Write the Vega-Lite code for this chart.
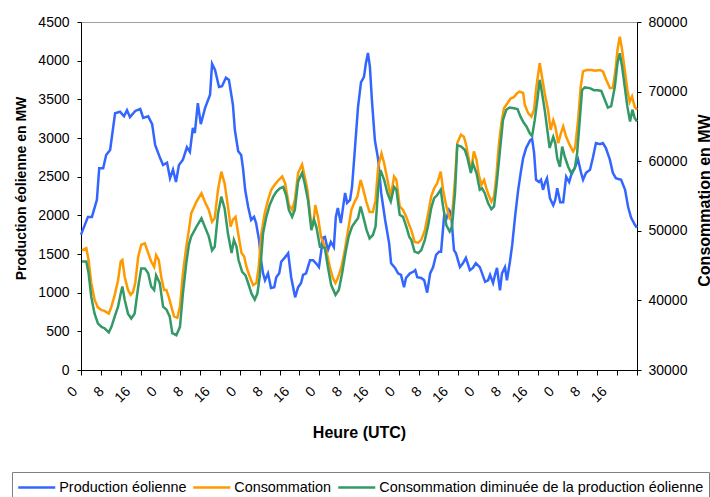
{
  "$schema": "https://vega.github.io/schema/vega-lite/v6.json",
  "width": 556,
  "height": 348,
  "autosize": {"type": "none"},
  "padding": {"left": 81, "top": 22, "right": 73, "bottom": 127},
  "background": "white",
  "config": {
    "view": {"stroke": "#a0a0a0"},
    "font": "Liberation Sans",
    "axis": {"grid": false, "labelColor": "#000", "titleColor": "#000", "domainColor": "#000", "tickColor": "#000", "labelFont": "Liberation Sans", "labelFontSize": 14, "titleFont": "Liberation Sans", "titleFontWeight": "bold"}
  },
  "datasets": {
    "prod": [
      {"h":0,"v":1750},{"h":2.1,"v":1980},{"h":3.3,"v":1980},{"h":4.8,"v":2200},{"h":5.5,"v":2610},{"h":6.7,"v":2610},{"h":7.6,"v":2780},{"h":8.8,"v":2845},{"h":10.3,"v":3320},{"h":11.8,"v":3340},{"h":13.0,"v":3280},{"h":13.9,"v":3360},{"h":14.8,"v":3270},{"h":16.4,"v":3350},{"h":17.9,"v":3375},{"h":18.8,"v":3260},{"h":20.3,"v":3280},{"h":21.5,"v":3180},{"h":22.4,"v":2910},{"h":23.9,"v":2740},{"h":24.8,"v":2650},{"h":26.0,"v":2680},{"h":26.9,"v":2480},{"h":27.8,"v":2590},{"h":28.7,"v":2430},{"h":29.6,"v":2650},{"h":30.8,"v":2720},{"h":32.0,"v":2880},{"h":32.9,"v":2820},{"h":33.8,"v":3130},{"h":34.4,"v":3065},{"h":35.3,"v":3450},{"h":36.2,"v":3180},{"h":37.5,"v":3390},{"h":39.0,"v":3560},{"h":39.6,"v":3960},{"h":40.5,"v":3880},{"h":41.7,"v":3660},{"h":42.6,"v":3670},{"h":43.8,"v":3780},{"h":44.7,"v":3750},{"h":45.9,"v":3430},{"h":46.5,"v":3100},{"h":47.5,"v":2830},{"h":48.4,"v":2780},{"h":49.0,"v":2590},{"h":49.6,"v":2330},{"h":50.5,"v":2110},{"h":51.4,"v":1940},{"h":52.3,"v":1980},{"h":52.9,"v":1900},{"h":53.8,"v":1680},{"h":54.4,"v":1420},{"h":55.0,"v":1250},{"h":55.6,"v":1160},{"h":56.5,"v":1250},{"h":57.1,"v":1125},{"h":57.4,"v":1060},{"h":58.4,"v":1070},{"h":59.0,"v":1200},{"h":59.9,"v":1250},{"h":60.5,"v":1400},{"h":61.7,"v":1460},{"h":62.6,"v":1510},{"h":63.5,"v":1200},{"h":64.7,"v":940},{"h":65.6,"v":1070},{"h":66.5,"v":1125},{"h":67.1,"v":1230},{"h":68.0,"v":1250},{"h":69.2,"v":1420},{"h":70.1,"v":1420},{"h":71.0,"v":1380},{"h":71.9,"v":1330},{"h":72.5,"v":1510},{"h":73.1,"v":1710},{"h":73.7,"v":1720},{"h":74.6,"v":1550},{"h":75.5,"v":1655},{"h":76.4,"v":1590},{"h":77.0,"v":1980},{"h":77.6,"v":2095},{"h":78.5,"v":1900},{"h":79.2,"v":2110},{"h":79.8,"v":2290},{"h":80.4,"v":2160},{"h":81.3,"v":2200},{"h":81.9,"v":2370},{"h":82.8,"v":2880},{"h":83.7,"v":3400},{"h":84.6,"v":3720},{"h":85.5,"v":3790},{"h":86.1,"v":3970},{"h":86.7,"v":4100},{"h":87.3,"v":3920},{"h":87.9,"v":3490},{"h":88.8,"v":2970},{"h":89.8,"v":2720},{"h":90.7,"v":2290},{"h":91.9,"v":1940},{"h":93.1,"v":1640},{"h":93.7,"v":1380},{"h":94.9,"v":1320},{"h":95.8,"v":1250},{"h":96.7,"v":1230},{"h":97.6,"v":1070},{"h":98.2,"v":1190},{"h":99.4,"v":1250},{"h":100.4,"v":1270},{"h":101.0,"v":1290},{"h":101.6,"v":1200},{"h":102.8,"v":1190},{"h":103.7,"v":1160},{"h":104.6,"v":1000},{"h":105.5,"v":1250},{"h":106.4,"v":1330},{"h":107.3,"v":1490},{"h":108.2,"v":1530},{"h":108.8,"v":1530},{"h":109.7,"v":1980},{"h":110.3,"v":1940},{"h":111.2,"v":2070},{"h":111.8,"v":2030},{"h":112.7,"v":1550},{"h":113.3,"v":1510},{"h":114.5,"v":1330},{"h":115.4,"v":1380},{"h":116.3,"v":1450},{"h":117.5,"v":1290},{"h":118.4,"v":1320},{"h":119.3,"v":1380},{"h":120.5,"v":1330},{"h":121.2,"v":1250},{"h":122.1,"v":1140},{"h":123.0,"v":1160},{"h":123.6,"v":1230},{"h":124.5,"v":1125},{"h":125.1,"v":1230},{"h":125.7,"v":1320},{"h":126.6,"v":1030},{"h":127.2,"v":1250},{"h":128.1,"v":1330},{"h":128.7,"v":1160},{"h":129.6,"v":1400},{"h":130.3,"v":1620},{"h":131.2,"v":2000},{"h":132.1,"v":2330},{"h":133.0,"v":2590},{"h":133.6,"v":2740},{"h":134.5,"v":2870},{"h":135.7,"v":2970},{"h":136.3,"v":2990},{"h":136.9,"v":2810},{"h":137.5,"v":2460},{"h":138.4,"v":2430},{"h":139.0,"v":2460},{"h":139.6,"v":2330},{"h":140.2,"v":2420},{"h":140.8,"v":2480},{"h":141.7,"v":2220},{"h":142.7,"v":2130},{"h":143.3,"v":2200},{"h":143.9,"v":2350},{"h":144.8,"v":2170},{"h":145.7,"v":2170},{"h":146.6,"v":2500},{"h":147.5,"v":2430},{"h":148.1,"v":2520},{"h":149.3,"v":2625},{"h":150.2,"v":2720},{"h":151.1,"v":2550},{"h":151.7,"v":2460},{"h":152.6,"v":2550},{"h":153.8,"v":2590},{"h":154.7,"v":2750},{"h":155.6,"v":2935},{"h":156.8,"v":2920},{"h":157.7,"v":2935},{"h":158.6,"v":2870},{"h":159.8,"v":2720},{"h":160.7,"v":2550},{"h":161.6,"v":2480},{"h":163.2,"v":2460},{"h":164.4,"v":2330},{"h":165.3,"v":2110},{"h":166.2,"v":1970},{"h":167.4,"v":1875},{"h":168,"v":1840}
    ],
    "conso": [
      {"h":0.3,"v":47200},{"h":1.6,"v":47500},{"h":2.3,"v":45800},{"h":3.1,"v":42500},{"h":4.1,"v":40100},{"h":5.1,"v":39000},{"h":6.2,"v":38600},{"h":7.1,"v":38500},{"h":8.4,"v":38100},{"h":9.2,"v":39100},{"h":10.2,"v":40800},{"h":11.2,"v":42900},{"h":12.0,"v":45600},{"h":12.5,"v":45800},{"h":13.2,"v":43400},{"h":14.2,"v":41500},{"h":15.0,"v":40800},{"h":15.7,"v":41200},{"h":16.4,"v":42500},{"h":17.3,"v":46300},{"h":18.2,"v":48000},{"h":19.3,"v":48200},{"h":20.3,"v":46800},{"h":21.2,"v":45600},{"h":22.1,"v":44800},{"h":22.7,"v":46500},{"h":23.5,"v":45800},{"h":24.3,"v":43200},{"h":25.1,"v":41500},{"h":25.8,"v":41500},{"h":26.5,"v":40500},{"h":27.3,"v":39100},{"h":28.1,"v":37700},{"h":29.1,"v":37500},{"h":29.9,"v":39100},{"h":30.8,"v":43900},{"h":31.8,"v":47700},{"h":32.6,"v":50100},{"h":33.3,"v":52500},{"h":34.9,"v":54200},{"h":36.4,"v":55400},{"h":37.4,"v":54200},{"h":38.6,"v":53000},{"h":39.6,"v":51300},{"h":40.4,"v":51800},{"h":41.4,"v":55900},{"h":42.4,"v":58500},{"h":43.4,"v":56800},{"h":44.4,"v":53500},{"h":45.2,"v":50600},{"h":45.9,"v":51600},{"h":46.7,"v":52000},{"h":47.5,"v":49600},{"h":48.5,"v":46800},{"h":49.3,"v":46300},{"h":50.0,"v":44800},{"h":51.0,"v":43400},{"h":52.0,"v":42200},{"h":53.0,"v":42500},{"h":53.7,"v":44800},{"h":54.5,"v":49600},{"h":55.5,"v":52500},{"h":56.5,"v":54400},{"h":57.5,"v":55900},{"h":58.5,"v":56600},{"h":59.7,"v":57300},{"h":60.8,"v":57800},{"h":61.7,"v":56800},{"h":62.8,"v":53700},{"h":63.8,"v":53000},{"h":64.6,"v":54400},{"h":65.6,"v":58300},{"h":66.8,"v":59500},{"h":67.6,"v":57800},{"h":68.4,"v":55900},{"h":69.4,"v":51600},{"h":70.1,"v":50600},{"h":70.8,"v":53700},{"h":71.6,"v":52000},{"h":72.5,"v":49200},{"h":73.1,"v":48400},{"h":74.1,"v":47200},{"h":75.2,"v":44800},{"h":76.1,"v":43200},{"h":76.9,"v":42500},{"h":77.6,"v":43200},{"h":78.7,"v":44800},{"h":79.7,"v":47200},{"h":80.7,"v":50100},{"h":81.7,"v":53000},{"h":82.7,"v":54200},{"h":83.5,"v":54900},{"h":84.5,"v":57300},{"h":85.2,"v":56100},{"h":86.2,"v":54200},{"h":87.2,"v":52700},{"h":88.2,"v":52700},{"h":89.0,"v":54400},{"h":89.8,"v":59200},{"h":90.8,"v":61100},{"h":91.6,"v":59700},{"h":92.6,"v":57300},{"h":93.6,"v":54900},{"h":94.6,"v":57800},{"h":95.3,"v":57300},{"h":96.3,"v":53500},{"h":97.3,"v":53000},{"h":98.3,"v":52000},{"h":99.2,"v":50800},{"h":99.8,"v":50100},{"h":100.8,"v":48400},{"h":101.9,"v":48300},{"h":102.8,"v":48700},{"h":103.9,"v":50100},{"h":104.9,"v":52500},{"h":105.8,"v":54900},{"h":106.7,"v":56100},{"h":107.6,"v":56800},{"h":108.7,"v":58500},{"h":109.4,"v":55900},{"h":110.4,"v":53500},{"h":111.4,"v":51800},{"h":112.1,"v":52000},{"h":113.0,"v":57300},{"h":113.7,"v":62600},{"h":114.8,"v":63800},{"h":115.7,"v":63500},{"h":116.4,"v":62300},{"h":117.5,"v":59500},{"h":117.9,"v":58700},{"h":118.7,"v":61400},{"h":119.5,"v":60200},{"h":120.2,"v":58000},{"h":121.0,"v":56600},{"h":121.8,"v":57300},{"h":122.5,"v":56100},{"h":123.2,"v":55100},{"h":124.0,"v":54200},{"h":124.8,"v":54900},{"h":125.5,"v":57800},{"h":126.2,"v":62100},{"h":127.0,"v":65400},{"h":127.8,"v":67600},{"h":128.8,"v":68300},{"h":129.8,"v":69000},{"h":130.8,"v":69200},{"h":131.6,"v":69700},{"h":132.5,"v":70000},{"h":133.6,"v":69800},{"h":134.1,"v":68100},{"h":135.1,"v":66900},{"h":136.1,"v":66400},{"h":136.9,"v":67400},{"h":137.6,"v":70700},{"h":138.6,"v":74100},{"h":139.3,"v":72100},{"h":140.1,"v":69800},{"h":141.1,"v":67400},{"h":141.9,"v":64500},{"h":142.7,"v":65900},{"h":143.3,"v":65000},{"h":144.2,"v":62600},{"h":145.0,"v":64000},{"h":145.7,"v":65000},{"h":146.6,"v":63500},{"h":147.7,"v":62300},{"h":148.7,"v":61400},{"h":149.3,"v":61900},{"h":150.2,"v":65900},{"h":151.0,"v":70700},{"h":151.7,"v":72900},{"h":152.7,"v":73100},{"h":154.2,"v":73100},{"h":155.4,"v":73000},{"h":156.8,"v":73100},{"h":157.7,"v":72900},{"h":158.7,"v":71700},{"h":159.8,"v":70500},{"h":160.7,"v":70500},{"h":161.5,"v":73100},{"h":162.1,"v":76000},{"h":162.8,"v":77900},{"h":163.5,"v":76000},{"h":164.3,"v":73100},{"h":165.1,"v":70200},{"h":165.8,"v":68500},{"h":166.5,"v":69300},{"h":167.3,"v":67800},{"h":168,"v":67400}
    ],
    "net": [
      {"h":0.3,"v":45600},{"h":1.6,"v":45600},{"h":2.3,"v":43900},{"h":3.1,"v":40500},{"h":4.1,"v":38100},{"h":5.1,"v":36700},{"h":6.2,"v":36200},{"h":7.1,"v":36000},{"h":8.4,"v":35400},{"h":9.2,"v":36200},{"h":10.2,"v":37700},{"h":11.2,"v":39100},{"h":12.0,"v":41000},{"h":12.5,"v":42000},{"h":13.2,"v":40100},{"h":14.2,"v":38100},{"h":15.2,"v":37400},{"h":16.2,"v":38100},{"h":17.3,"v":42000},{"h":18.2,"v":44600},{"h":19.3,"v":44600},{"h":20.3,"v":43900},{"h":21.2,"v":42000},{"h":22.1,"v":41500},{"h":22.7,"v":43600},{"h":23.8,"v":42500},{"h":24.8,"v":39100},{"h":25.8,"v":38700},{"h":26.8,"v":37700},{"h":27.6,"v":35300},{"h":28.8,"v":35000},{"h":29.9,"v":36200},{"h":30.8,"v":41000},{"h":31.8,"v":45300},{"h":32.6,"v":48000},{"h":33.3,"v":49200},{"h":34.9,"v":50600},{"h":36.4,"v":51800},{"h":37.4,"v":50600},{"h":38.6,"v":49200},{"h":39.6,"v":47200},{"h":40.4,"v":47700},{"h":41.4,"v":52500},{"h":42.4,"v":54900},{"h":43.4,"v":53200},{"h":44.4,"v":49600},{"h":45.5,"v":46800},{"h":46.2,"v":48700},{"h":47.0,"v":47700},{"h":47.6,"v":45800},{"h":48.7,"v":44100},{"h":49.7,"v":43600},{"h":50.5,"v":42500},{"h":51.5,"v":41000},{"h":52.5,"v":40100},{"h":53.3,"v":41000},{"h":54.0,"v":43400},{"h":55.0,"v":49600},{"h":56.0,"v":52000},{"h":57.0,"v":53700},{"h":58.1,"v":54900},{"h":59.0,"v":55600},{"h":60.1,"v":56100},{"h":61.1,"v":56300},{"h":62.0,"v":55100},{"h":62.8,"v":53000},{"h":63.8,"v":52000},{"h":64.6,"v":53000},{"h":65.6,"v":57100},{"h":66.8,"v":58300},{"h":67.6,"v":56800},{"h":68.6,"v":54400},{"h":69.6,"v":50100},{"h":70.4,"v":51600},{"h":71.1,"v":50600},{"h":72.2,"v":47700},{"h":72.8,"v":47700},{"h":73.7,"v":47500},{"h":74.6,"v":44800},{"h":75.6,"v":42200},{"h":76.9,"v":40800},{"h":77.9,"v":41500},{"h":78.9,"v":43900},{"h":79.9,"v":46800},{"h":80.9,"v":49200},{"h":81.9,"v":50600},{"h":82.9,"v":51300},{"h":83.7,"v":51800},{"h":84.5,"v":53500},{"h":85.3,"v":52000},{"h":86.3,"v":50100},{"h":87.2,"v":48900},{"h":88.2,"v":49400},{"h":89.0,"v":50600},{"h":89.8,"v":56100},{"h":90.5,"v":58700},{"h":91.6,"v":57300},{"h":92.6,"v":55400},{"h":93.6,"v":54200},{"h":94.6,"v":56300},{"h":95.3,"v":55900},{"h":96.3,"v":52300},{"h":97.3,"v":52000},{"h":98.3,"v":50600},{"h":99.2,"v":49100},{"h":99.8,"v":48700},{"h":100.8,"v":47000},{"h":101.9,"v":46800},{"h":102.8,"v":47200},{"h":103.9,"v":48700},{"h":104.9,"v":50800},{"h":105.8,"v":53200},{"h":106.7,"v":54700},{"h":107.6,"v":55100},{"h":108.7,"v":55900},{"h":109.4,"v":53500},{"h":110.4,"v":50800},{"h":111.4,"v":49900},{"h":112.1,"v":50600},{"h":113.0,"v":55400},{"h":113.7,"v":62300},{"h":114.9,"v":62100},{"h":116.0,"v":61600},{"h":116.7,"v":60600},{"h":117.8,"v":58300},{"h":118.4,"v":59700},{"h":119.5,"v":58300},{"h":120.5,"v":55900},{"h":121.2,"v":56100},{"h":122.0,"v":55400},{"h":123.0,"v":54000},{"h":124.0,"v":53100},{"h":124.8,"v":53500},{"h":125.5,"v":56300},{"h":126.5,"v":61100},{"h":127.5,"v":65900},{"h":128.5,"v":67400},{"h":129.5,"v":67700},{"h":130.8,"v":67600},{"h":131.9,"v":67500},{"h":132.8,"v":66400},{"h":133.7,"v":65600},{"h":134.6,"v":65000},{"h":135.6,"v":64000},{"h":136.3,"v":63600},{"h":137.1,"v":65900},{"h":137.9,"v":68800},{"h":138.6,"v":71700},{"h":139.3,"v":69800},{"h":140.1,"v":67400},{"h":140.9,"v":64500},{"h":141.6,"v":61900},{"h":142.7,"v":63500},{"h":143.3,"v":62600},{"h":143.9,"v":60400},{"h":144.7,"v":59200},{"h":145.4,"v":62100},{"h":146.2,"v":60600},{"h":147.2,"v":59200},{"h":148.1,"v":58300},{"h":149.2,"v":59000},{"h":149.9,"v":61100},{"h":150.7,"v":65900},{"h":151.4,"v":70200},{"h":152.2,"v":70600},{"h":153.7,"v":70500},{"h":155.0,"v":70200},{"h":156.2,"v":70200},{"h":157.2,"v":70100},{"h":158.3,"v":68800},{"h":159.2,"v":67700},{"h":160.2,"v":67900},{"h":161.3,"v":70700},{"h":162.1,"v":74100},{"h":162.8,"v":75500},{"h":163.5,"v":73600},{"h":164.3,"v":70700},{"h":165.1,"v":67800},{"h":165.9,"v":65700},{"h":166.6,"v":67400},{"h":167.3,"v":66200},{"h":168,"v":65700}
    ]
  },
  "encoding": {
    "x": {
      "field": "h", "type": "quantitative",
      "scale": {"domain": [0, 168], "nice": false, "zero": false},
      "axis": {
        "values": [0,6,8,12,16,18,24,30,32,36,40,42,48,54,56,60,64,66,72,78,80,84,88,90,96,102,104,108,112,114,120,126,128,132,136,138,144,150,152,156,160,162,168],
        "labelExpr": "datum.value % 8 == 0 && datum.value < 168 ? toString(datum.value % 24) : ''",
        "tickOpacity": {"condition": {"test": "datum.value % 6 == 0", "value": 1}, "value": 0},
        "labelAngle": -45, "labelAlign": "right", "labelBaseline": "middle",
        "labelPadding": 14, "labelOffset": -6, "labelOverlap": false, "labelFlush": false, "labelBound": false,
        "tickSize": 5,
        "title": "Heure (UTC)", "titleFontSize": 16, "titleX": 278, "titleY": 67, "titleAlign": "center", "titleBaseline": "alphabetic", "titleAngle": 0
      }
    }
  },
  "layer": [
    {
      "data": {"name": "prod"},
      "mark": {"type": "line", "strokeWidth": 2.5},
      "encoding": {
        "y": {
          "field": "v", "type": "quantitative",
          "scale": {"domain": [0, 4500], "nice": false, "zero": false},
          "axis": {
            "orient": "left", "values": [0,500,1000,1500,2000,2500,3000,3500,4000,4500], "format": "d",
            "tickSize": 4, "labelPadding": 8,
            "title": "Production éolienne en MW", "titleFontSize": 14, "titleAngle": -90, "titleX": -56, "titleY": 166, "titleAlign": "center", "titleBaseline": "alphabetic"
          }
        },
        "color": {
          "datum": "Production éolienne", "type": "nominal",
          "scale": {"domain": ["Production éolienne", "Consommation", "Consommation diminuée de la production éolienne"], "range": ["#3366ff", "#ff9900", "#339966"]},
          "legend": {
            "orient": "none", "legendX": -69, "legendY": 450, "direction": "horizontal", "columns": 3,
            "title": null, "symbolType": "M-2,0H2", "symbolStrokeWidth": 2.5, "symbolSize": 342, "symbolOffset": 9.25,
            "labelFont": "Liberation Sans", "labelFontSize": 14.4, "labelColor": "#000", "labelLimit": 500,
            "labelOffset": 12, "columnPadding": 1, "strokeColor": "#808080", "fillColor": "#ffffff", "padding": 5
          }
        }
      }
    },
    {
      "encoding": {
        "y": {
          "field": "v", "type": "quantitative",
          "scale": {"domain": [30000, 80000], "nice": false, "zero": false},
          "axis": {
            "orient": "right", "values": [30000,40000,50000,60000,70000,80000], "format": "d",
            "tickSize": 4, "labelPadding": 7,
            "title": "Consommation en MW", "titleFontSize": 16, "titleAngle": -90, "titleX": 72, "titleY": 178, "titleAlign": "center", "titleBaseline": "alphabetic"
          }
        }
      },
      "layer": [
        {
          "data": {"name": "conso"},
          "mark": {"type": "line", "strokeWidth": 2.5},
          "encoding": {"color": {"datum": "Consommation", "type": "nominal"}}
        },
        {
          "data": {"name": "net"},
          "mark": {"type": "line", "strokeWidth": 2.5},
          "encoding": {"color": {"datum": "Consommation diminuée de la production éolienne", "type": "nominal"}}
        }
      ]
    }
  ],
  "resolve": {"scale": {"y": "independent"}}
}
